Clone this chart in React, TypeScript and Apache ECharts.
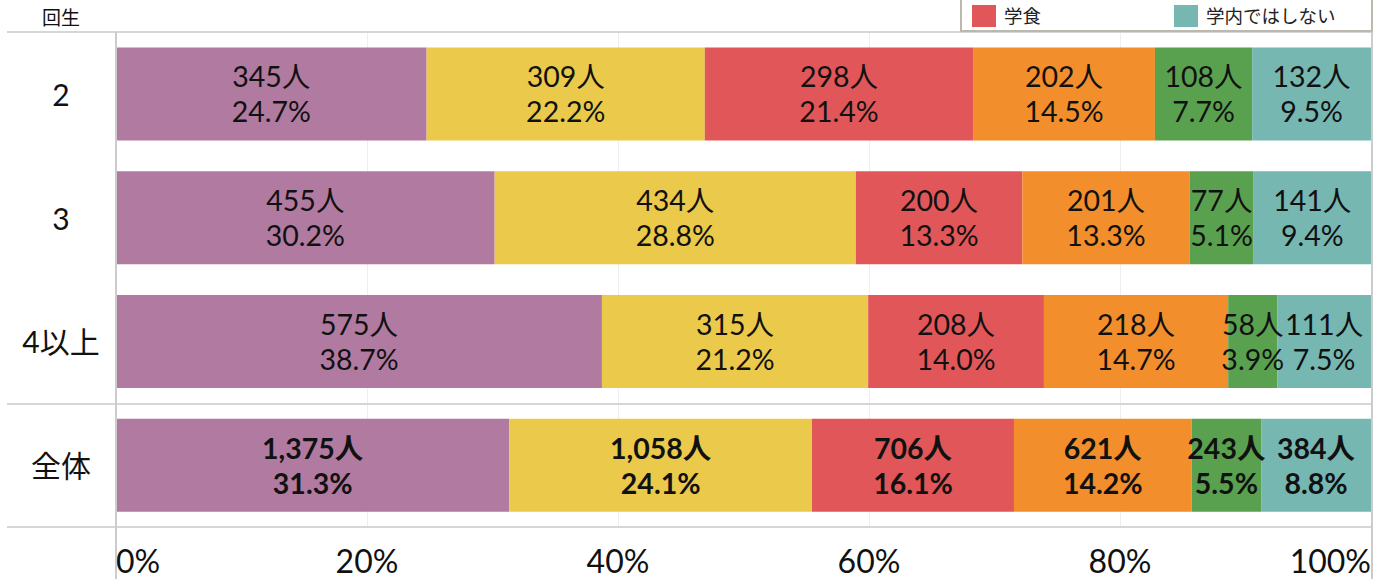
import React, { useEffect, useRef } from "react";
import * as echarts from "echarts";

const categories = ["2", "3", "4以上", "全体"];
const seriesNames = ["区分1", "区分2", "学食", "区分4", "区分5", "学内ではしない"];
const seriesColors = ["#b07aa1", "#ebc94a", "#e15759", "#f28e2b", "#59a14f", "#76b7b2"];
// counts per series (rows: 2, 3, 4以上, 全体)
const counts1 = [345, 455, 575, 1375];
const counts2 = [309, 434, 315, 1058];
const counts3 = [298, 200, 208, 706];
const counts4 = [202, 201, 218, 621];
const counts5 = [108, 77, 58, 243];
const counts6 = [132, 141, 111, 384];
const pct1 = ["24.7", "30.2", "38.7", "31.3"];
const pct2 = ["22.2", "28.8", "21.2", "24.1"];
const pct3 = ["21.4", "13.3", "14.0", "16.1"];
const pct4 = ["14.5", "13.3", "14.7", "14.2"];
const pct5 = ["7.7", "5.1", "3.9", "5.5"];
const pct6 = ["9.5", "9.4", "7.5", "8.8"];
const xTicks = [0, 20, 40, 60, 80, 100];

const FONT = "Lato, 'Noto Sans CJK JP', sans-serif";

export default function App() {
  const ref = useRef<HTMLDivElement>(null);
  useEffect(() => {
    if (!ref.current) return;
    const chart = echarts.init(ref.current, undefined, { renderer: "svg" });
    const allCounts = [counts1, counts2, counts3, counts4, counts5, counts6];
    const allPct = [pct1, pct2, pct3, pct4, pct5, pct6];
    const totals = categories.map((_, i) => allCounts.reduce((s, c) => s + c[i], 0));

    const series = allCounts.map((cnt, si) => ({
      name: seriesNames[si],
      type: "bar",
      stack: "total",
      barWidth: 93,
      itemStyle: { color: seriesColors[si] },
      data: cnt.map((c, i) => ({
        value: (c / totals[i]) * 100,
        label: { fontWeight: i === 3 ? "bold" : "normal" },
      })),
      label: {
        show: true,
        position: "inside",
        fontFamily: FONT,
        fontSize: 28.5,
        lineHeight: 35,
        color: "#111",
        formatter: (p: any) =>
          `${cnt[p.dataIndex].toLocaleString("en-US")}人\n${allPct[si][p.dataIndex]}%`,
      },
    }));

    const gl = (x1: number, y1: number, x2: number, y2: number, color: string, w: number) => ({
      type: "line",
      shape: { x1, y1, x2, y2 },
      style: { stroke: color, lineWidth: w },
      z: 10,
    });

    chart.setOption({
      animation: false,
      textStyle: { fontFamily: FONT },
      grid: { left: 116, right: 14, top: 32, bottom: 52 },
      legend: [
        {
          left: 967,
          top: 0,
          data: ["学食"],
          icon: "rect",
          itemWidth: 24,
          itemHeight: 22,
          textStyle: { fontSize: 18.5, color: "#222", fontFamily: FONT, padding: [0, 0, 0, 3] },
          z: 20,
        },
        {
          left: 1169,
          top: 0,
          data: ["学内ではしない"],
          icon: "rect",
          itemWidth: 24,
          itemHeight: 22,
          textStyle: { fontSize: 18.5, color: "#222", fontFamily: FONT, padding: [0, 0, 0, 3] },
          z: 20,
        },
      ],
      xAxis: {
        type: "value",
        min: xTicks[0],
        max: xTicks[xTicks.length - 1],
        interval: 20,
        axisLine: { show: false },
        axisTick: { show: false },
        splitLine: { show: true, lineStyle: { color: "#eeeeee", width: 1 } },
        axisLabel: {
          fontSize: 32,
          color: "#111",
          margin: 17,
          fontFamily: FONT,
          alignMinLabel: "left",
          alignMaxLabel: "right",
          formatter: "{value}%",
        },
      },
      yAxis: {
        type: "category",
        inverse: true,
        data: categories,
        axisLine: { show: false },
        axisTick: { show: false },
        axisLabel: { fontSize: 30, color: "#111", margin: 55, align: "center", fontFamily: FONT },
      },
      graphic: [
        {
          type: "rect",
          shape: { x: 961, y: -20, width: 411, height: 51 },
          style: { fill: "#fff", stroke: "#bcb8ad", lineWidth: 2 },
          z: 15,
        },
        gl(7, 32, 1372, 32, "#d6d6d6", 2),
        gl(7, 404, 1372, 404, "#d6d6d6", 2),
        gl(7, 527, 1372, 527, "#d6d6d6", 2),
        gl(116, 32, 116, 579, "#cccccc", 2),
        gl(1372, 0, 1372, 579, "#cccccc", 2),
        {
          type: "text",
          x: 61,
          y: 17,
          style: {
            text: "回生",
            fontSize: 19,
            fontFamily: FONT,
            fill: "#111",
            align: "center",
            verticalAlign: "middle",
          },
        },
      ],
      series,
    });
    return () => chart.dispose();
  }, []);
  return (
    <div
      ref={ref}
      style={{ position: "fixed", left: 0, top: 0, width: 1385, height: 579, background: "#fff" }}
    />
  );
}
